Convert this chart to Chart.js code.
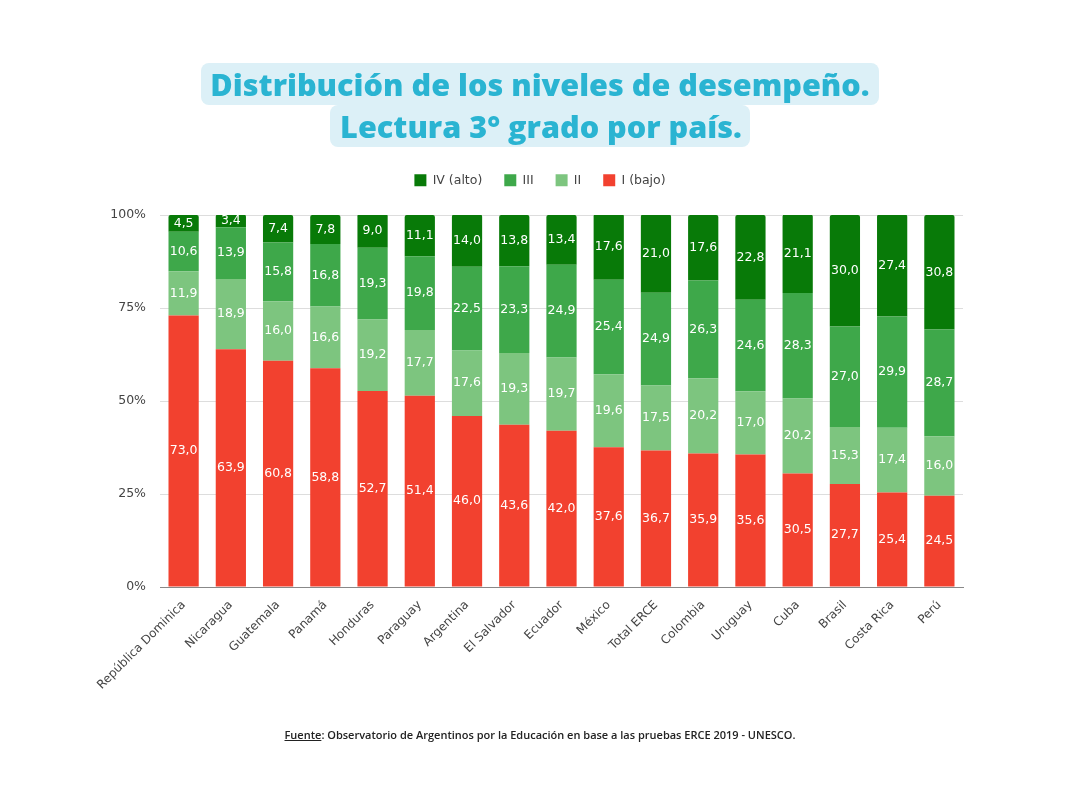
<!DOCTYPE html>
<html>
<head>
<meta charset="utf-8">
<script src="https://cdn.jsdelivr.net/npm/chart.js@4.4.1/dist/chart.umd.min.js"></script>
<style>
  html, body { margin:0; padding:0; background:#ffffff; }
  #wrap { position:relative; width:1080px; height:810px; overflow:hidden; }
  #c { position:absolute; left:0; top:0; }
  .tline { position:absolute; left:0; width:1080px; text-align:center; }
  .tbox { display:inline-block; background:#dcf0f7; border-radius:8px; color:#2ab4d2;
          font-family:"Open Sans", sans-serif; font-weight:800; font-size:30.6px; line-height:42px; padding:0 9px; }
  #foot { position:absolute; left:0; width:1080px; top:727px; text-align:center;
          font-family:"Open Sans", sans-serif; font-weight:600; font-size:11px; color:#222; }
  #foot u { text-decoration:underline; }
</style>
</head>
<body>
<div id="wrap">
  <canvas id="c" width="1080" height="810"></canvas>
  <div class="tline" style="top:63px;"><span class="tbox">Distribución de los niveles de desempeño.</span></div>
  <div class="tline" style="top:105px;"><span class="tbox" style="padding:0 8px 0 10px;">Lectura 3° grado por país.</span></div>
  <div id="foot"><u>Fuente</u>: Observatorio de Argentinos por la Educación en base a las pruebas ERCE 2019 - UNESCO.</div>
</div>
<script>
const categories = ["República Dominica","Nicaragua","Guatemala","Panamá","Honduras","Paraguay","Argentina","El Salvador","Ecuador","México","Total ERCE","Colombia","Uruguay","Cuba","Brasil","Costa Rica","Perú"];
const nivelI   = [73.0,63.9,60.8,58.8,52.7,51.4,46.0,43.6,42.0,37.6,36.7,35.9,35.6,30.5,27.7,25.4,24.5];
const nivelII  = [11.9,18.9,16.0,16.6,19.2,17.7,17.6,19.3,19.7,19.6,17.5,20.2,17.0,20.2,15.3,17.4,16.0];
const nivelIII = [10.6,13.9,15.8,16.8,19.3,19.8,22.5,23.3,24.9,25.4,24.9,26.3,24.6,28.3,27.0,29.9,28.7];
const nivelIV  = [4.5,3.4,7.4,7.8,9.0,11.1,14.0,13.8,13.4,17.6,21.0,17.6,22.8,21.1,30.0,27.4,30.8];
const yTicks = [0,25,50,75,100];

const labelPlugin = {
  id:'segLabels',
  afterDatasetsDraw(chart){
    const ctx = chart.ctx;
    ctx.save();
    ctx.font = '12.5px "DejaVu Sans", sans-serif';
    ctx.fillStyle = '#ffffff';
    ctx.textAlign = 'center';
    ctx.textBaseline = 'middle';
    chart.data.datasets.forEach((ds, di) => {
      const meta = chart.getDatasetMeta(di);
      if (meta.hidden) return;
      meta.data.forEach((el, i) => {
        const v = ds.data[i];
        const y = (el.y + el.base) / 2;
        ctx.fillText(v.toFixed(1).replace('.', ','), el.x, y);
      });
    });
    ctx.restore();
  }
};

const legendFit = {
  id:'legendFit',
  beforeInit(chart){
    const orig = chart.legend.fit;
    chart.legend.fit = function(){ orig.bind(chart.legend)(); this.height = 63; };
  },
  afterLayout(chart){
    const lg = chart.legend;
    lg.left = 0; lg.right = 1080; lg.width = 1080;
  }
};

const common = { barPercentage:0.64, categoryPercentage:1.0, borderWidth:0 };

new Chart(document.getElementById('c'), {
  type:'bar',
  data:{
    labels:categories,
    datasets:[
      Object.assign({label:'I (bajo)', data:nivelI, backgroundColor:'#f2412f'}, common),
      Object.assign({label:'II', data:nivelII, backgroundColor:'#7dc57f'}, common),
      Object.assign({label:'III', data:nivelIII, backgroundColor:'#3ea84a'}, common),
      Object.assign({label:'IV (alto)', data:nivelIV, backgroundColor:'#087a08', borderRadius:{topLeft:2, topRight:2, bottomLeft:0, bottomRight:0}, borderSkipped:'bottom'}, common)
    ]
  },
  options:{
    responsive:false,
    animation:false,
    devicePixelRatio:1,
    layout:{ padding:{ top:152, left:95, right:117, bottom:113 } },
    plugins:{
      legend:{
        position:'top',
        reverse:true,
        labels:{ boxWidth:12, boxHeight:12, padding:22, color:'#444',
                 font:{ family:'"DejaVu Sans", sans-serif', size:12.5 } }
      },
      tooltip:{ enabled:false },
      title:{ display:false }
    },
    scales:{
      x:{
        stacked:true,
        grid:{ display:false },
        border:{ color:'#888', width:1 },
        ticks:{ color:'#444', minRotation:45, maxRotation:45, autoSkip:false,
                font:{ family:'"DejaVu Sans", sans-serif', size:12 } },
        afterFit(s){ s.height = 110; }
      },
      y:{
        stacked:true,
        min:0, max:100,
        afterBuildTicks(s){ s.ticks = yTicks.map(v => ({value:v})); },
        grid:{ color:'#dddddd', drawTicks:false },
        border:{ display:false },
        ticks:{ color:'#444', padding:14, callback:(v)=> v + '%',
                font:{ family:'"DejaVu Sans", sans-serif', size:12.5 } },
        afterFit(s){ s.width = 65; }
      }
    }
  },
  plugins:[labelPlugin, legendFit]
});
</script>
</body>
</html>
